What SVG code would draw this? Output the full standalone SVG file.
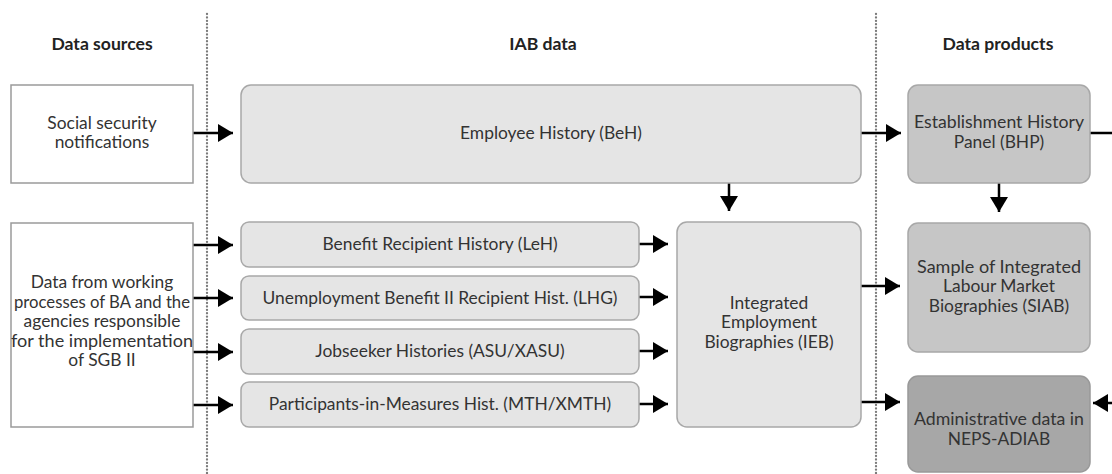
<svg xmlns="http://www.w3.org/2000/svg" width="1112" height="474" viewBox="0 0 1112 474">
<style>
text{font-family:Lato,"Liberation Sans",sans-serif;font-size:17.4px;fill:#333;text-anchor:middle}
.h{font-weight:bold;font-size:17.6px;fill:#222}
.src{fill:#fff;stroke:#9a9a9a;stroke-width:1.5}
.lt{fill:#e5e5e5;stroke:#a8a8a8;stroke-width:1.5}
.md{fill:#c6c6c6;stroke:#a8a8a8;stroke-width:1.5}
.dk{fill:#a7a7a7;stroke:#999;stroke-width:1.5}
.dot{stroke:#7a7a7a;stroke-width:2.3;stroke-dasharray:0.1 3.3;stroke-linecap:round;fill:none}
.c{stroke:#000;stroke-width:2.5;fill:none}
.a{marker-end:url(#ah)}
</style>
<defs>
<marker id="ah" viewBox="0 0 15 18" refX="15" refY="9" markerWidth="15" markerHeight="18" markerUnits="userSpaceOnUse" orient="auto">
<path d="M0,0 L15,9 L0,18 Z" fill="#000"/>
</marker>
</defs>
<rect width="1112" height="474" fill="#fff"/>
<g id="dividers">
<line class="dot" x1="207" y1="14" x2="207" y2="474"/>
<line class="dot" x1="876" y1="14" x2="876" y2="474"/>
</g>
<g id="headers">
<text class="h" x="102" y="50">Data sources</text>
<text class="h" x="543" y="50">IAB data</text>
<text class="h" x="998" y="50">Data products</text>
</g>
<g id="connectors">
<line class="c a" x1="193" y1="133" x2="233" y2="133"/>
<line class="c a" x1="193" y1="245" x2="233" y2="245"/>
<line class="c a" x1="193" y1="298" x2="233" y2="298"/>
<line class="c a" x1="193" y1="352" x2="233" y2="352"/>
<line class="c a" x1="193" y1="405" x2="233" y2="405"/>
<line class="c a" x1="639" y1="244" x2="668" y2="244"/>
<line class="c a" x1="639" y1="297" x2="668" y2="297"/>
<line class="c a" x1="639" y1="351" x2="668" y2="351"/>
<line class="c a" x1="639" y1="404" x2="668" y2="404"/>
<line class="c a" x1="729" y1="183" x2="729" y2="211"/>
<line class="c a" x1="861" y1="133" x2="901" y2="133"/>
<line class="c a" x1="861" y1="286" x2="900" y2="286"/>
<line class="c a" x1="861" y1="402" x2="900" y2="402"/>
<line class="c a" x1="999" y1="183" x2="999" y2="212"/>
<line class="c" x1="1090" y1="133" x2="1114" y2="133"/>
<line class="c a" x1="1114" y1="403" x2="1093" y2="403"/>
</g>
<g id="src-social">
<rect class="src" x="11" y="85" width="182" height="98"/>
<text x="102" y="129">Social security</text>
<text x="102" y="148">notifications</text>
</g>
<g id="src-ba">
<rect class="src" x="11" y="223" width="182" height="204"/>
<text x="102" y="288">Data from working</text>
<text x="102" y="308" textLength="176" lengthAdjust="spacingAndGlyphs">processes of BA and the</text>
<text x="102" y="327">agencies responsible</text>
<text x="102" y="347" textLength="182" lengthAdjust="spacingAndGlyphs">for the implementation</text>
<text x="102" y="366">of SGB II</text>
</g>
<g id="beh">
<rect class="lt" x="241" y="85" width="620" height="98" rx="10"/>
<text x="551" y="139">Employee History (BeH)</text>
</g>
<g id="leh">
<rect class="lt" x="241" y="222" width="398" height="45" rx="8"/>
<text x="440" y="250">Benefit Recipient History (LeH)</text>
</g>
<g id="lhg">
<rect class="lt" x="241" y="276" width="398" height="44" rx="8"/>
<text x="440" y="304">Unemployment Benefit II Recipient Hist. (LHG)</text>
</g>
<g id="asu">
<rect class="lt" x="241" y="329" width="398" height="45" rx="8"/>
<text x="440" y="357">Jobseeker Histories (ASU/XASU)</text>
</g>
<g id="mth">
<rect class="lt" x="241" y="382" width="398" height="45" rx="8"/>
<text x="440" y="410">Participants-in-Measures Hist. (MTH/XMTH)</text>
</g>
<g id="ieb">
<rect class="lt" x="677" y="222" width="184" height="205" rx="10"/>
<text x="769" y="309">Integrated</text>
<text x="769" y="328">Employment</text>
<text x="769" y="348">Biographies (IEB)</text>
</g>
<g id="bhp">
<rect class="md" x="908" y="85" width="182" height="98" rx="10"/>
<text x="999" y="128" textLength="170" lengthAdjust="spacingAndGlyphs">Establishment History</text>
<text x="999" y="148">Panel (BHP)</text>
</g>
<g id="siab">
<rect class="md" x="908" y="223" width="182" height="129" rx="10"/>
<text x="999" y="273" textLength="164" lengthAdjust="spacingAndGlyphs">Sample of Integrated</text>
<text x="999" y="292">Labour Market</text>
<text x="999" y="312">Biographies (SIAB)</text>
</g>
<g id="neps">
<rect class="dk" x="908" y="376" width="182" height="96" rx="10"/>
<text x="999" y="425" textLength="170" lengthAdjust="spacingAndGlyphs">Administrative data in</text>
<text x="999" y="445">NEPS-ADIAB</text>
</g>
</svg>
